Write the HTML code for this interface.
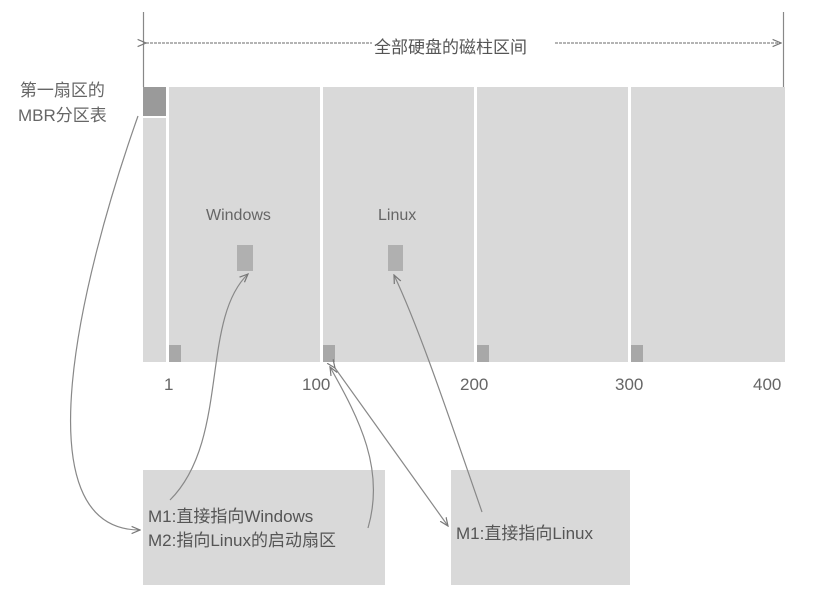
<!DOCTYPE html>
<html><head><meta charset="utf-8"><style>
body{margin:0;background:#fff;width:839px;height:601px;overflow:hidden;font-family:"Liberation Sans","Noto Sans CJK SC",sans-serif;color:#555}
.a{position:absolute}
.c{position:absolute;background:#d9d9d9}
.s{position:absolute;background:#a8a8a8}
.t{position:absolute;white-space:nowrap}
</style></head><body>
<div class="c" style="left:143px;top:118px;width:23px;height:244px"></div>
<div class="s" style="left:143px;top:87px;width:23px;height:29px;background:#9a9a9a"></div>
<div class="c" style="left:169px;top:87px;width:151px;height:275px"></div>
<div class="c" style="left:323px;top:87px;width:151px;height:275px"></div>
<div class="c" style="left:477px;top:87px;width:151px;height:275px"></div>
<div class="c" style="left:631px;top:87px;width:154px;height:275px"></div>
<div class="s" style="left:169px;top:345px;width:12px;height:17px"></div>
<div class="s" style="left:323px;top:345px;width:12px;height:17px"></div>
<div class="s" style="left:477px;top:345px;width:12px;height:17px"></div>
<div class="s" style="left:631px;top:345px;width:12px;height:17px"></div>
<div class="s" style="left:237px;top:245px;width:16px;height:26px;background:#b0b0b0"></div>
<div class="s" style="left:388px;top:245px;width:15px;height:26px;background:#b0b0b0"></div>
<div class="t" style="left:206px;top:207px;font-size:16px;color:#666">Windows</div>
<div class="t" style="left:378px;top:207px;font-size:16px;color:#666">Linux</div>
<div class="t" style="left:18px;top:78px;font-size:17px;line-height:25px;text-align:center;color:#666">第一扇区的<br>MBR分区表</div>
<div class="t" style="left:164px;top:375px;font-size:17px;color:#666">1</div>
<div class="t" style="left:302px;top:375px;font-size:17px;color:#666">100</div>
<div class="t" style="left:460px;top:375px;font-size:17px;color:#666">200</div>
<div class="t" style="left:615px;top:375px;font-size:17px;color:#666">300</div>
<div class="t" style="left:753px;top:375px;font-size:17px;color:#666">400</div>
<div class="c" style="left:143px;top:470px;width:242px;height:115px"></div>
<div class="c" style="left:451px;top:470px;width:179px;height:115px"></div>
<div class="t" style="left:148px;top:505px;font-size:17px;line-height:24px;color:#555">M1:直接指向Windows<br>M2:指向Linux的启动扇区</div>
<div class="t" style="left:456px;top:519px;font-size:17px;color:#555">M1:直接指向Linux</div>
<svg class="a" style="left:0;top:0" width="839" height="601">
<defs><marker id="m" markerWidth="8" markerHeight="8" refX="7" refY="4" orient="auto"><path d="M0,1 L7,4 L0,7" fill="none" stroke="#777" stroke-width="1"/></marker></defs>
<g stroke="#888" stroke-width="1.2" fill="none">
<line x1="143.5" y1="12" x2="143.5" y2="87"/>
<line x1="783.5" y1="12" x2="783.5" y2="87"/>
<line x1="146" y1="43" x2="372" y2="43" stroke-dasharray="3,1" marker-start="url(#m)"/>
<line x1="555" y1="43" x2="781" y2="43" stroke-dasharray="3,1" marker-end="url(#m)"/>
<path d="M138,116 C80,280 20,530 140,530" marker-end="url(#m)"/>
<path d="M170,500 C230,440 200,320 248,274" marker-end="url(#m)"/>
<path d="M482,512 C450,420 420,330 394,275" marker-end="url(#m)"/>
<path d="M335,368 L448,526" marker-start="url(#m)" marker-end="url(#m)"/>
<path d="M368,528 C385,470 360,420 330,367" marker-end="url(#m)"/>
</g>
</svg>
<div class="t" style="left:374px;top:33px;font-size:17px;color:#555;background:#fff">全部硬盘的磁柱区间</div>
</body></html>
